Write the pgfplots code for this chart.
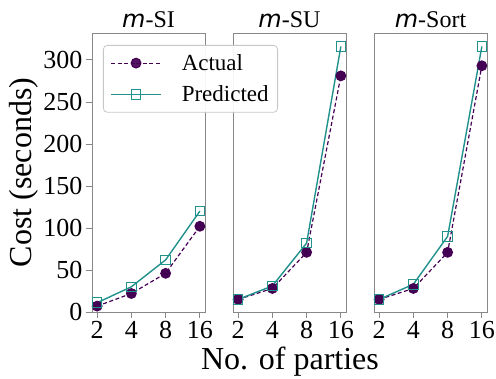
\documentclass[border=0pt]{standalone}
\usepackage{fontspec}
\setmainfont{Liberation Serif}
\newfontfamily\djv{DejaVu Sans}
\usepackage{pgfplots}
\pgfplotsset{compat=1.18}
\definecolor{cact}{HTML}{440154}
\definecolor{cpred}{HTML}{21918C}
\definecolor{frame}{HTML}{888888}
\pgfplotsset{
  panel/.style={
    scale only axis, width=113pt, height=279pt,
    xmin=0.85, xmax=4.15, ymin=0, ymax=332,
    xtick={1,2,3,4}, xticklabels={2,4,8,16},
    axis line style={frame, line width=0.8pt},
    tick style={frame, line width=0.8pt},
    major tick length=6pt,
    tick align=outside,
    xtick pos=bottom, ytick pos=left,
    ticklabel style={font=\fontsize{26}{28}\selectfont},
    /pgf/number format/assume math mode=true,
    title style={font=\fontsize{24}{26}\selectfont, yshift=-4pt},
    clip=false,
    anchor=south west,
  },
  actual/.style={cact, dash pattern=on 4pt off 2.5pt, line width=1.2pt, mark=*, mark size=4.8pt, mark options={solid, fill=cact}},
  pred/.style={cpred, solid, line width=1.4pt, mark=square, mark size=4.8pt, mark options={solid, line width=0.9pt}},
}
\begin{document}
\begin{tikzpicture}
\useasboundingbox (0,0) rectangle (496pt,379pt);
% panel 2
\begin{axis}[panel, at={(233pt,67pt)}, ytick=\empty, title={{\djv\itshape m}-SU}]
\addplot[actual] coordinates {(1,15) (2,28) (3,71) (4,281)};
\addplot[pred] coordinates {(1,15) (2,31) (3,82) (4,316)};
\end{axis}
% panel 3
\begin{axis}[panel, at={(374pt,67pt)}, ytick=\empty, title={{\djv\itshape m}-Sort}]
\addplot[actual] coordinates {(1,15) (2,28) (3,71) (4,293)};
\addplot[pred] coordinates {(1,15) (2,33) (3,90) (4,316)};
\end{axis}
% panel 1
\begin{axis}[panel, at={(92pt,67pt)}, ytick={0,50,100,150,200,250,300},
  title={{\djv\itshape m}-SI},
  ylabel={Cost (seconds)},
  ylabel style={font=\fontsize{32}{34}\selectfont, yshift=-2pt},
  legend style={at={(0.097,0.957)}, anchor=north west, draw=black!22, line width=0.8pt, rounded corners=4pt,
    font=\fontsize{23}{26}\selectfont, fill=white, fill opacity=0.92, text opacity=1, draw opacity=1,
    inner xsep=7pt, inner ysep=7pt, row sep=10pt, column sep=18pt},
  legend cell align=left,
  legend image code/.code={\draw[#1] (0pt,0pt) -- (25pt,0pt) plot coordinates {(25pt,0pt)} -- (50pt,0pt);},
]
\addplot[actual] coordinates {(1,7) (2,22) (3,46) (4,102)};
\addlegendentry{Actual}
\addplot[pred] coordinates {(1,11) (2,30) (3,62) (4,120)};
\addlegendentry{Predicted}
\end{axis}
\node[font=\fontsize{32}{34}\selectfont, anchor=base] at (290pt,9pt) {No. of parties};
\end{tikzpicture}
\end{document}
